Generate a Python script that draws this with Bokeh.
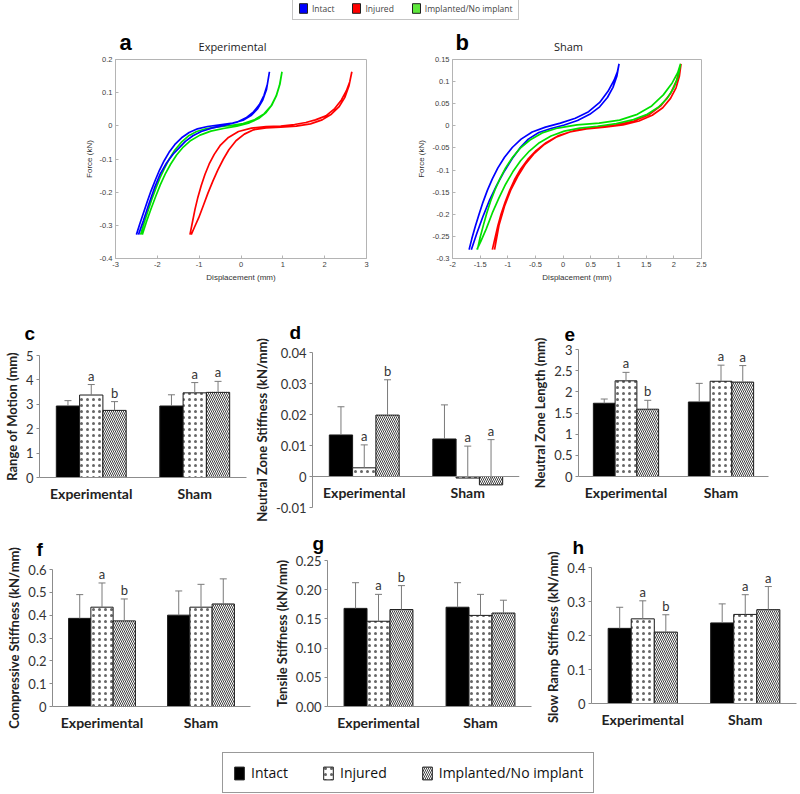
import numpy as np
from bokeh.plotting import figure
from bokeh.models import (ColumnDataSource, FactorRange, FixedTicker, Legend,
                          LegendItem, Range1d, Title)
from bokeh.transform import dodge
from bokeh.layouts import column, row
from bokeh.embed import file_html
from bokeh.resources import INLINE
from bokeh.core.properties import value

# ---------------- data ----------------
series_names = ["Intact", "Injured", "Implanted/No implant"]
groups = ["Experimental", "Sham"]
curve_colors = ["#0000ff", "#ff0000", "#00e000"]
legend_top_colors = ["#0000ff", "#ff0000", "#5ee83c"]
panel_titles = ["Experimental", "Sham"]
panel_letters = ["a", "b", "c", "d", "e", "f", "g", "h"]

# Panel a (Experimental) force-displacement loops
a_intact_x = [-2.50, -2.42, -2.33, -2.24, -2.15, -2.05, -1.95, -1.84, -1.72, -1.58, -1.42, -1.24, -1.04, -0.80, -0.50, -0.20, 0.05, 0.25, 0.40, 0.52, 0.61, 0.68,
              0.63, 0.55, 0.44, 0.30, 0.12, -0.10, -0.40, -0.70, -0.95, -1.15, -1.33, -1.49, -1.62, -1.78, -1.93, -2.07, -2.20, -2.33, -2.45]
a_intact_y = [-0.328, -0.296, -0.262, -0.228, -0.196, -0.164, -0.134, -0.106, -0.080, -0.056, -0.036, -0.020, -0.009, -0.002, 0.003, 0.008, 0.017, 0.032, 0.052, 0.078, 0.110, 0.163,
              0.125, 0.092, 0.064, 0.042, 0.024, 0.011, 0.001, -0.007, -0.017, -0.030, -0.047, -0.068, -0.085, -0.112, -0.145, -0.188, -0.235, -0.285, -0.328]
a_injured_x = [-1.22, -1.16, -1.10, -1.03, -0.95, -0.86, -0.76, -0.64, -0.49, -0.30, -0.06, 0.25, 0.60, 0.95, 1.28, 1.55, 1.78, 2.03, 2.24, 2.40, 2.52, 2.60, 2.65,
               2.58, 2.48, 2.34, 2.16, 1.94, 1.66, 1.32, 0.95, 0.60, 0.30, 0.08, -0.12, -0.29, -0.42, -0.55, -0.67, -0.79, -0.90, -1.01, -1.11, -1.19]
a_injured_y = [-0.328, -0.290, -0.252, -0.215, -0.180, -0.146, -0.115, -0.086, -0.058, -0.035, -0.017, -0.007, -0.002, -0.001, 0.004, 0.010, 0.018, 0.030, 0.052, 0.078, 0.106, 0.133, 0.163,
               0.120, 0.085, 0.057, 0.035, 0.018, 0.006, -0.001, -0.004, -0.006, -0.012, -0.025, -0.045, -0.072, -0.100, -0.132, -0.166, -0.203, -0.240, -0.277, -0.305, -0.328]
a_impl_x = [-2.40, -2.32, -2.23, -2.14, -2.04, -1.94, -1.83, -1.71, -1.58, -1.43, -1.26, -1.06, -0.82, -0.55, -0.25, 0.05, 0.32, 0.55, 0.72, 0.84, 0.92, 0.98,
            0.93, 0.85, 0.74, 0.60, 0.42, 0.20, -0.10, -0.42, -0.72, -0.98, -1.20, -1.38, -1.54, -1.68, -1.81, -1.93, -2.04, -2.15, -2.26, -2.36]
a_impl_y = [-0.328, -0.294, -0.259, -0.224, -0.190, -0.158, -0.128, -0.099, -0.073, -0.050, -0.031, -0.017, -0.008, -0.003, 0.001, 0.007, 0.018, 0.036, 0.060, 0.090, 0.122, 0.163,
            0.125, 0.092, 0.063, 0.040, 0.022, 0.009, -0.001, -0.008, -0.016, -0.028, -0.044, -0.064, -0.088, -0.115, -0.145, -0.178, -0.213, -0.250, -0.289, -0.328]

# Panel b (Sham)
b_intact_x = [-1.70, -1.65, -1.59, -1.52, -1.45, -1.37, -1.28, -1.18, -1.06, -0.92, -0.76, -0.56, -0.32, -0.05, 0.22, 0.46, 0.66, 0.81, 0.92, 0.98, 1.01,
              0.97, 0.90, 0.80, 0.66, 0.48, 0.26, 0.02, -0.22, -0.44, -0.63, -0.78, -0.92, -1.06, -1.20, -1.33, -1.45, -1.56, -1.66]
b_intact_y = [-0.280, -0.255, -0.228, -0.200, -0.173, -0.146, -0.120, -0.095, -0.071, -0.049, -0.030, -0.014, -0.003, 0.006, 0.017, 0.032, 0.053, 0.078, 0.103, 0.122, 0.140,
              0.112, 0.087, 0.064, 0.043, 0.026, 0.012, 0.002, -0.006, -0.015, -0.030, -0.050, -0.074, -0.102, -0.134, -0.168, -0.205, -0.243, -0.280]
b_injured_x = [-1.28, -1.23, -1.18, -1.12, -1.05, -0.97, -0.88, -0.77, -0.64, -0.49, -0.31, -0.08, 0.22, 0.58, 0.95, 1.28, 1.55, 1.77, 1.94, 2.05, 2.13,
               2.10, 2.04, 1.94, 1.80, 1.61, 1.37, 1.08, 0.75, 0.42, 0.12, -0.13, -0.34, -0.52, -0.68, -0.82, -0.95, -1.06, -1.16, -1.24]
b_injured_y = [-0.280, -0.253, -0.226, -0.199, -0.173, -0.147, -0.122, -0.098, -0.076, -0.056, -0.038, -0.022, -0.010, -0.003, 0.002, 0.011, 0.025, 0.046, 0.073, 0.103, 0.140,
               0.112, 0.086, 0.062, 0.041, 0.024, 0.011, 0.002, -0.003, -0.007, -0.014, -0.026, -0.042, -0.062, -0.086, -0.114, -0.146, -0.182, -0.225, -0.280]
b_impl_x = [-1.55, -1.50, -1.44, -1.38, -1.31, -1.23, -1.14, -1.04, -0.92, -0.78, -0.60, -0.38, -0.10, 0.25, 0.65, 1.02, 1.34, 1.60, 1.81, 1.97, 2.07, 2.12,
            2.08, 2.00, 1.88, 1.72, 1.52, 1.27, 0.96, 0.62, 0.30, 0.02, -0.22, -0.43, -0.61, -0.77, -0.91, -1.04, -1.16, -1.28, -1.39, -1.49, -1.56]
b_impl_y = [-0.280, -0.252, -0.224, -0.197, -0.170, -0.144, -0.119, -0.095, -0.072, -0.051, -0.032, -0.016, -0.005, 0.002, 0.006, 0.013, 0.026, 0.045, 0.070, 0.097, 0.120, 0.140,
            0.112, 0.086, 0.062, 0.042, 0.026, 0.014, 0.005, -0.001, -0.005, -0.012, -0.023, -0.038, -0.057, -0.079, -0.104, -0.132, -0.163, -0.197, -0.233, -0.262, -0.280]

a_xticks = [-3, -2, -1, 0, 1, 2, 3]
a_xlabels = ["-3", "-2", "-1", "0", "1", "2", "3"]
a_yticks = [-0.4, -0.3, -0.2, -0.1, 0, 0.1, 0.2]
a_ylabels = ["-0.4", "-0.3", "-0.2", "-0.1", "0", "0.1", "0.2"]
b_xticks = [-2, -1.5, -1, -0.5, 0, 0.5, 1, 1.5, 2, 2.5]
b_xlabels = ["-2", "-1.5", "-1", "-0.5", "0", "0.5", "1", "1.5", "2", "2.5"]
b_yticks = [-0.3, -0.25, -0.2, -0.15, -0.1, -0.05, 0, 0.05, 0.1, 0.15]
b_ylabels = ["-0.3", "-0.25", "-0.2", "-0.15", "-0.1", "-0.05", "0", "0.05", "0.1", "0.15"]

# Bar panels: [Experimental, Sham] for each series (mean, SD)
rom_intact, rom_intact_sd = [2.93, 2.93], [0.22, 0.46]
rom_injured, rom_injured_sd = [3.38, 3.47], [0.43, 0.42]
rom_impl, rom_impl_sd = [2.75, 3.49], [0.36, 0.45]
rom_letters = [["", ""], ["a", "a"], ["b", "a"]]

nzs_intact, nzs_intact_sd = [0.0134, 0.0121], [0.0091, 0.0110]
nzs_injured, nzs_injured_sd = [0.0028, -0.0005], [0.0074, 0.0103]
nzs_impl, nzs_impl_sd = [0.0198, -0.0027], [0.0114, 0.0146]
nzs_letters = [["", ""], ["a", "a"], ["b", "a"]]

nzl_intact, nzl_intact_sd = [1.73, 1.76], [0.10, 0.44]
nzl_injured, nzl_injured_sd = [2.26, 2.25], [0.20, 0.38]
nzl_impl, nzl_impl_sd = [1.59, 2.23], [0.21, 0.39]
nzl_letters = [["", ""], ["a", "a"], ["b", "a"]]

cs_intact, cs_intact_sd = [0.386, 0.400], [0.104, 0.106]
cs_injured, cs_injured_sd = [0.435, 0.435], [0.106, 0.100]
cs_impl, cs_impl_sd = [0.375, 0.449], [0.096, 0.110]
cs_letters = [["", ""], ["a", ""], ["b", ""]]

ts_intact, ts_intact_sd = [0.168, 0.170], [0.044, 0.042]
ts_injured, ts_injured_sd = [0.146, 0.156], [0.046, 0.036]
ts_impl, ts_impl_sd = [0.166, 0.160], [0.041, 0.022]
ts_letters = [["", ""], ["a", ""], ["b", ""]]

sr_intact, sr_intact_sd = [0.221, 0.237], [0.062, 0.056]
sr_injured, sr_injured_sd = [0.249, 0.262], [0.053, 0.058]
sr_impl, sr_impl_sd = [0.210, 0.276], [0.051, 0.068]
sr_letters = [["", ""], ["a", "a"], ["b", "a"]]

c_yticks = [0, 1, 2, 3, 4, 5]; c_ylabels = ["0", "1", "2", "3", "4", "5"]
d_yticks = [-0.01, 0, 0.01, 0.02, 0.03, 0.04]; d_ylabels = ["-0.01", "0", "0.01", "0.02", "0.03", "0.04"]
e_yticks = [0, 0.5, 1, 1.5, 2, 2.5, 3]; e_ylabels = ["0", "0.5", "1", "1.5", "2", "2.5", "3"]
f_yticks = [0, 0.1, 0.2, 0.3, 0.4, 0.5, 0.6]; f_ylabels = ["0", "0.1", "0.2", "0.3", "0.4", "0.5", "0.6"]
g_yticks = [0, 0.05, 0.1, 0.15, 0.2, 0.25]; g_ylabels = ["0.00", "0.05", "0.10", "0.15", "0.20", "0.25"]
h_yticks = [0, 0.1, 0.2, 0.3, 0.4]; h_ylabels = ["0", "0.1", "0.2", "0.3", "0.4"]

# ---------------- helpers ----------------
def no_align(p):
    try:
        p.frame_align = False
    except Exception:
        pass


def add_letter(p, letter, offset, standoff):
    p.add_layout(Title(text=letter, align="left", offset=offset, standoff=standoff,
                       vertical_align="bottom", text_font="Liberation Sans",
                       text_font_size="19px", text_font_style="bold", text_color="black"), "above")


def curve_panel(width, mbl, mbr, xr, yr, xticks, xlabels, yticks, ylabels, curves):
    p = figure(width=width, height=246, x_range=Range1d(*xr), y_range=Range1d(*yr),
               min_border_left=mbl, min_border_right=mbr, min_border_top=5, min_border_bottom=42,
               output_backend="svg", toolbar_location=None)
    no_align(p)
    for xs, ys, col in curves:
        p.line(xs, ys, line_color=col, line_width=1.7)
    p.grid.visible = False
    p.outline_line_color = "#b4b4b4"
    p.xaxis.ticker = FixedTicker(ticks=xticks)
    p.xaxis.major_label_overrides = dict(zip(xticks, xlabels))
    p.yaxis.ticker = FixedTicker(ticks=yticks)
    p.yaxis.major_label_overrides = dict(zip(yticks, ylabels))
    p.xaxis.axis_label = "Displacement (mm)"
    p.yaxis.axis_label = "Force (kN)"
    for ax in (p.xaxis, p.yaxis):
        ax.axis_line_color = "#b4b4b4"
        ax.major_tick_line_color = "#b4b4b4"
        ax.major_tick_in = 3
        ax.major_tick_out = 0
        ax.minor_tick_line_color = None
        ax.major_label_text_font = "Liberation Sans"
        ax.major_label_text_font_size = "7.5px"
        ax.major_label_text_color = "#404040"
        ax.major_label_standoff = 3
        ax.axis_label_text_font = "Liberation Sans"
        ax.axis_label_text_font_size = "8px"
        ax.axis_label_text_font_style = "normal"
        ax.axis_label_text_color = "#333333"
        ax.axis_label_standoff = 3
    return p


bar_styles = [dict(fill_color="black", hatch_pattern=" "),
              dict(fill_color="white", hatch_pattern="dot", hatch_scale=6, hatch_weight=0.5,
                   hatch_color="#666666"),
              dict(fill_color="white", hatch_pattern="left_diagonal_line", hatch_scale=4,
                   hatch_weight=0.8, hatch_color="#111111")]


def bar_panel(w, h, mbl, mbr, mbt, mbb, ylim, yticks, ylabels, ylabel, means, sds, letters,
              bw=0.225, zero_axis=False):
    p = figure(x_range=FactorRange(factors=groups), y_range=Range1d(*ylim), width=w, height=h,
               min_border_left=mbl, min_border_right=mbr, min_border_top=mbt, min_border_bottom=mbb,
               output_backend="svg", toolbar_location=None)
    no_align(p)
    data = dict(group=groups)
    for i in range(3):
        m = np.array(means[i], dtype=float)
        s = np.array(sds[i], dtype=float)
        data[f"m{i}"] = m
        data[f"t{i}"] = m + s
        data[f"l{i}"] = letters[i]
    src = ColumnDataSource(data)
    offsets = [-bw, 0.0, bw]
    for i in range(3):
        p.vbar(x=dodge("group", offsets[i], range=p.x_range), top=f"m{i}", width=bw, source=src,
               line_color="#1a1a1a", line_width=1, **bar_styles[i])
    for i in range(3):
        p.segment(x0=dodge("group", offsets[i], range=p.x_range), y0=f"m{i}",
                  x1=dodge("group", offsets[i], range=p.x_range), y1=f"t{i}",
                  source=src, line_color="#7a7a7a", line_width=1)
        p.scatter(x=dodge("group", offsets[i], range=p.x_range), y=f"t{i}", marker="dash",
                  size=7, line_color="#7a7a7a", line_width=1, source=src)
        p.text(x=dodge("group", offsets[i], range=p.x_range), y=f"t{i}", text=f"l{i}", source=src,
               text_align="center", text_baseline="bottom", y_offset=-1,
               text_font=value("Lato"), text_font_size="13px", text_color="#333333")
    p.grid.visible = False
    p.outline_line_color = None
    p.xaxis.major_tick_line_color = None
    p.xaxis.minor_tick_line_color = None
    p.xaxis.axis_line_color = "#8c8c8c"
    p.xaxis.major_label_text_font = "Lato"
    p.xaxis.major_label_text_font_style = "bold"
    p.xaxis.major_label_text_font_size = "14px"
    p.xaxis.major_label_text_color = "#222222"
    p.xaxis.major_label_standoff = 1
    if zero_axis:
        p.xaxis.fixed_location = 0
    p.yaxis.ticker = FixedTicker(ticks=yticks)
    p.yaxis.major_label_overrides = dict(zip(yticks, ylabels))
    p.yaxis.axis_line_color = "#8c8c8c"
    p.yaxis.major_tick_line_color = "#8c8c8c"
    p.yaxis.major_tick_out = 3
    p.yaxis.major_tick_in = 0
    p.yaxis.minor_tick_line_color = None
    p.yaxis.major_label_text_font = "Lato"
    p.yaxis.major_label_text_font_size = "13px"
    p.yaxis.major_label_text_color = "#333333"
    p.yaxis.major_label_standoff = 3
    p.yaxis.axis_label = ylabel
    p.yaxis.axis_label_text_font = "Lato"
    p.yaxis.axis_label_text_font_style = "bold"
    p.yaxis.axis_label_text_font_size = "13px"
    p.yaxis.axis_label_text_color = "#222222"
    p.yaxis.axis_label_standoff = 3
    return p


# ---------------- header strip: legend + panel a/b headers ----------------
lt = figure(width=800, height=54, x_range=Range1d(0, 800), y_range=Range1d(0, 54),
            x_axis_location=None, y_axis_location=None, min_border=0,
            output_backend="svg", toolbar_location=None)
no_align(lt)
lt.grid.visible = False
lt.outline_line_color = None
top_items = []
for name, col in zip(series_names, legend_top_colors):
    r = lt.quad(left=[np.nan], right=[np.nan], top=[np.nan], bottom=[np.nan],
                fill_color=col, line_color="#202020")
    top_items.append(LegendItem(label=name, renderers=[r]))
lt.add_layout(Legend(items=top_items, orientation="horizontal", location=(292, 34), margin=0,
                     padding=5, spacing=17, glyph_width=10, glyph_height=12, label_height=12,
                     label_standoff=4, label_text_font="Open Sans", label_text_font_size="8.5px",
                     border_line_color="#8a8a8a", border_line_width=1), "center")
lt.text(x=[119, 455], y=[0, 0], text=[panel_letters[0], panel_letters[1]],
        text_font=value("Liberation Sans"), text_font_size="22px", text_font_style="bold",
        text_color="black", text_baseline="bottom", text_align="left")
lt.text(x=[232, 568], y=[1, 1], text=panel_titles,
        text_font=value("Open Sans"), text_font_size="11px", text_color="#222222",
        text_baseline="bottom", text_align="center")

# ---------------- panels a, b ----------------
pa = curve_panel(414, 115, 48, (-3, 3), (-0.4, 0.2), a_xticks, a_xlabels, a_yticks, a_ylabels,
                 [(a_injured_x, a_injured_y, curve_colors[1]),
                  (a_impl_x, a_impl_y, curve_colors[2]),
                  (a_intact_x, a_intact_y, curve_colors[0])])
pb = curve_panel(386, 34, 99, (-2, 2.5), (-0.3, 0.15), b_xticks, b_xlabels, b_yticks, b_ylabels,
                 [(b_injured_x, b_injured_y, curve_colors[1]),
                  (b_intact_x, b_intact_y, curve_colors[0]),
                  (b_impl_x, b_impl_y, curve_colors[2])])

# ---------------- bar panels ----------------
pc = bar_panel(250, 222, 38, 4, 55, 45, (0, 5), c_yticks, c_ylabels, "Range of Motion (mm)",
               [rom_intact, rom_injured, rom_impl], [rom_intact_sd, rom_injured_sd, rom_impl_sd], rom_letters)
add_letter(pc, panel_letters[2], -15, 23)

pd_ = bar_panel(274, 222, 60, 5, 52, 15, (-0.01, 0.04), d_yticks, d_ylabels, "Neutral Zone Stiffness (kN/mm)",
                [nzs_intact, nzs_injured, nzs_impl], [nzs_intact_sd, nzs_injured_sd, nzs_impl_sd], nzs_letters,
                zero_axis=True)
add_letter(pd_, panel_letters[3], -23, 20)

pe = bar_panel(276, 222, 54, 32, 49, 46, (0, 3), e_yticks, e_ylabels, "Neutral Zone Length (mm)",
               [nzl_intact, nzl_injured, nzl_impl], [nzl_intact_sd, nzl_injured_sd, nzl_impl_sd], nzl_letters,
               bw=0.229)
add_letter(pe, panel_letters[4], -14, 17)

pf = bar_panel(270, 223, 52, 20, 47, 39, (0, 0.6), f_yticks, f_ylabels, "Compressive Stiffness (kN/mm)",
               [cs_intact, cs_injured, cs_impl], [cs_intact_sd, cs_injured_sd, cs_impl_sd], cs_letters)
add_letter(pf, panel_letters[5], -16, 20)

pg = bar_panel(262, 223, 50, 1, 38, 39, (0, 0.25), g_yticks, g_ylabels, "Tensile Stiffness (kN/mm)",
               [ts_intact, ts_injured, ts_impl], [ts_intact_sd, ts_injured_sd, ts_impl_sd], ts_letters)
add_letter(pg, panel_letters[6], -15, 13)

ph = bar_panel(268, 223, 59, 4, 45, 42, (0, 0.4), h_yticks, h_ylabels, "Slow Ramp  Stiffness (kN/mm)",
               [sr_intact, sr_injured, sr_impl], [sr_intact_sd, sr_injured_sd, sr_impl_sd], sr_letters)
add_letter(ph, panel_letters[7], -19, 20)

# ---------------- bottom legend ----------------
lb = figure(width=800, height=49, x_range=Range1d(0, 1), y_range=Range1d(0, 1),
            x_axis_location=None, y_axis_location=None, min_border=0,
            output_backend="svg", toolbar_location=None)
no_align(lb)
lb.grid.visible = False
lb.outline_line_color = None
bot_items = []
for name, st in zip(series_names, bar_styles):
    r = lb.quad(left=[np.nan], right=[np.nan], top=[np.nan], bottom=[np.nan],
                line_color="#1a1a1a", **st)
    bot_items.append(LegendItem(label=name, renderers=[r]))
lb.add_layout(Legend(items=bot_items, orientation="horizontal", location=(222, 1), margin=0,
                     padding=10, spacing=34, glyph_width=12, glyph_height=16, label_height=16,
                     label_standoff=6, label_text_font="Open Sans", label_text_font_size="14px",
                     label_text_color="#111111",
                     border_line_color="#333333", border_line_width=1.2), "center")

layout = column(lt, row(pa, pb), row(pc, pd_, pe), row(pf, pg, ph), lb)

open("out.html", "w").write(file_html(layout, INLINE))
